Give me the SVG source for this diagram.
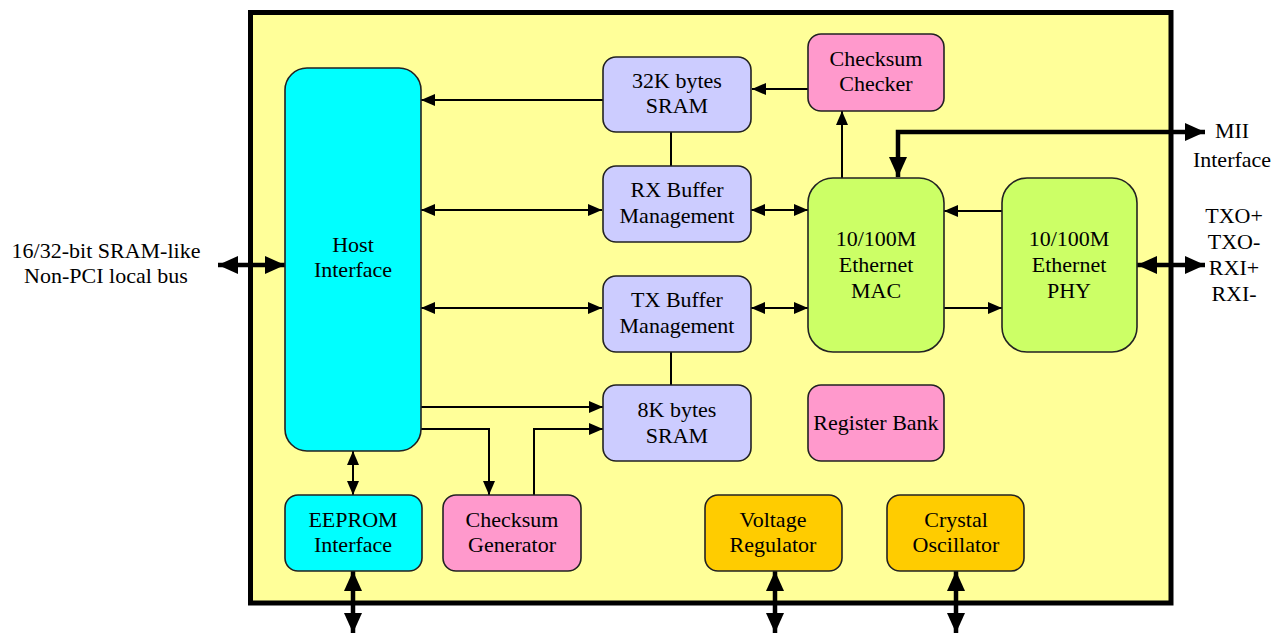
<svg xmlns="http://www.w3.org/2000/svg" width="1282" height="634" viewBox="0 0 1282 634">
<style>
.box{stroke:#222;stroke-width:1.6}
.host{fill:#00FFFF}.sram{fill:#CCCCFF}.pink{fill:#FF99CC}.green{fill:#CCFF66}.orange{fill:#FFCC00}
text{font-family:"Liberation Serif","Times New Roman",serif;font-size:22px;fill:#000;text-anchor:middle}
.thin{fill:none;stroke:#000;stroke-width:2}
.thick{fill:none;stroke:#000;stroke-width:4.5}
</style>
<defs>
<marker id="a" viewBox="0 0 14 12" refX="14" refY="6" markerWidth="14" markerHeight="12" markerUnits="userSpaceOnUse" orient="auto-start-reverse"><path d="M0,0 L14,6 L0,12 z" fill="#000"/></marker>
<marker id="A" viewBox="0 0 20 18" refX="20" refY="9" markerWidth="20" markerHeight="18" markerUnits="userSpaceOnUse" orient="auto-start-reverse"><path d="M0,0 L20,9 L0,18 z" fill="#000"/></marker>
</defs>
<rect width="1282" height="634" fill="#fff"/>
<rect id="chip" x="250.5" y="12.5" width="920.5" height="590.5" fill="#FFFF99" stroke="#000" stroke-width="5"/>

<g id="connectors">
<path class="thin" d="M603,100 H421" marker-end="url(#a)"/>
<path class="thin" d="M808,89 H752" marker-end="url(#a)"/>
<path class="thin" d="M842,178 V111" marker-end="url(#a)"/>
<path class="thin" d="M671,132 V166"/>
<path class="thin" d="M421,210 H602" marker-start="url(#a)" marker-end="url(#a)"/>
<path class="thin" d="M421,308 H602" marker-start="url(#a)" marker-end="url(#a)"/>
<path class="thin" d="M751,210 H808" marker-start="url(#a)" marker-end="url(#a)"/>
<path class="thin" d="M751,308 H808" marker-start="url(#a)" marker-end="url(#a)"/>
<path class="thin" d="M671,352 V385"/>
<path class="thin" d="M421,407 H603" marker-end="url(#a)"/>
<path class="thin" d="M421,429 H489 V495" marker-end="url(#a)"/>
<path class="thin" d="M534,495 V429 H603" marker-end="url(#a)"/>
<path class="thin" d="M353,451 V495" marker-start="url(#a)" marker-end="url(#a)"/>
<path class="thin" d="M1002,211 H944" marker-end="url(#a)"/>
<path class="thin" d="M944,308 H1002" marker-end="url(#a)"/>
<path class="thick" d="M218,265 H285" marker-start="url(#A)" marker-end="url(#A)"/>
<path class="thick" d="M898,177 V132 H1205" marker-start="url(#A)" marker-end="url(#A)"/>
<path class="thick" d="M1137,265 H1205" marker-start="url(#A)" marker-end="url(#A)"/>
<path class="thick" d="M353,571 V633" marker-start="url(#A)" marker-end="url(#A)"/>
<path class="thick" d="M775,571 V633" marker-start="url(#A)" marker-end="url(#A)"/>
<path class="thick" d="M956,571 V633" marker-start="url(#A)" marker-end="url(#A)"/>
</g>

<g id="host"><rect class="box host" x="285" y="68" width="136" height="383" rx="22"/><text x="353" y="252">Host</text><text x="353" y="277">Interface</text></g>
<g id="sram32"><rect class="box sram" x="603" y="57" width="148" height="75" rx="13"/><text x="677" y="88">32K bytes</text><text x="677" y="113">SRAM</text></g>
<g id="cschk"><rect class="box pink" x="808" y="34" width="136" height="77" rx="13"/><text x="876" y="66">Checksum</text><text x="876" y="91">Checker</text></g>
<g id="rxbuf"><rect class="box sram" x="603" y="166" width="148" height="76" rx="13"/><text x="677" y="197">RX Buffer</text><text x="677" y="223">Management</text></g>
<g id="txbuf"><rect class="box sram" x="603" y="276" width="148" height="76" rx="13"/><text x="677" y="307">TX Buffer</text><text x="677" y="333">Management</text></g>
<g id="sram8"><rect class="box sram" x="603" y="385" width="148" height="76" rx="13"/><text x="677" y="417">8K bytes</text><text x="677" y="443">SRAM</text></g>
<g id="regbank"><rect class="box pink" x="808" y="385" width="136" height="76" rx="13"/><text x="876" y="430">Register Bank</text></g>
<g id="mac"><rect class="box green" x="808" y="178" width="136" height="174" rx="25"/><text x="876" y="246">10/100M</text><text x="876" y="272">Ethernet</text><text x="876" y="298">MAC</text></g>
<g id="phy"><rect class="box green" x="1002" y="178" width="135" height="174" rx="25"/><text x="1069" y="246">10/100M</text><text x="1069" y="272">Ethernet</text><text x="1069" y="298">PHY</text></g>
<g id="eeprom"><rect class="box host" x="285" y="495" width="137" height="76" rx="13"/><text x="353" y="527">EEPROM</text><text x="353" y="552">Interface</text></g>
<g id="csgen"><rect class="box pink" x="443" y="495" width="138" height="76" rx="13"/><text x="512" y="527">Checksum</text><text x="512" y="552">Generator</text></g>
<g id="vreg"><rect class="box orange" x="705" y="495" width="137" height="76" rx="13"/><text x="773" y="527">Voltage</text><text x="773" y="552">Regulator</text></g>
<g id="xtal"><rect class="box orange" x="887" y="495" width="137" height="76" rx="13"/><text x="956" y="527">Crystal</text><text x="956" y="552">Oscillator</text></g>

<g id="labels">
<text x="106" y="258">16/32-bit SRAM-like</text><text x="106" y="283">Non-PCI local bus</text>
<text x="1232" y="138">MII</text><text x="1232" y="167">Interface</text>
<text x="1234" y="223">TXO+</text><text x="1234" y="249">TXO-</text><text x="1234" y="275">RXI+</text><text x="1234" y="301">RXI-</text>
</g>
</svg>
